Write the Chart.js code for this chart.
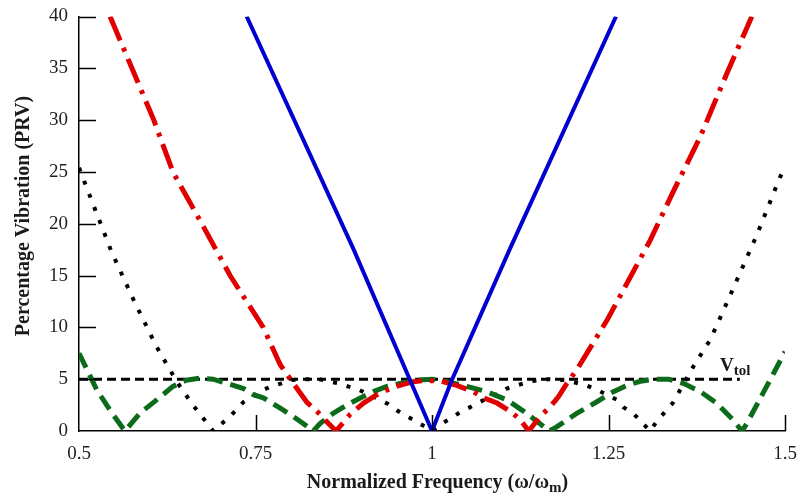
<!DOCTYPE html>
<html>
<head>
<meta charset="utf-8">
<script src="https://cdn.jsdelivr.net/npm/chart.js@4"></script>
<style>
  html, body { margin: 0; padding: 0; background: #fff; }
  #wrap { width: 800px; height: 498px; }
</style>
</head>
<body>
<div id="wrap"><canvas id="prvChart"></canvas></div>
<script>
// Data
const xTickLabels = ['0.5', '0.75', '1', '1.25', '1.5'];
const yTickLabels = ['0', '5', '10', '15', '20', '25', '30', '35', '40'];

const freqBlue = [0.7375, 0.8885, 0.969, 1.0, 1.028, 1.1105, 1.2606];
const prvBlue = [40, 17.6, 4.9, 0, 4.9, 17.6, 40];

const freqRed = [0.544, 0.575, 0.606, 0.633, 0.674, 0.714, 0.761, 0.785, 0.8035, 0.8225, 0.837, 0.851, 0.864,
  0.884, 0.903, 0.922, 0.941, 0.959, 0.973, 0.987, 1.0, 1.013, 1.035, 1.0585, 1.073, 1.092, 1.111, 1.125, 1.137,
  1.153, 1.167, 1.179, 1.191, 1.205, 1.248, 1.309, 1.341, 1.38, 1.417, 1.453];
const prvRed = [40, 35, 30, 25, 20, 15, 10, 6.4, 4.6, 2.8, 1.9, 0.9, 0,
  1.6, 2.7, 3.5, 4.1, 4.5, 4.75, 4.85, 4.85, 4.8, 4.4, 3.8, 3.2, 2.7, 1.9, 1.1, 0,
  1.4, 2.3, 3.3, 4.6, 5.9, 10.7, 18.4, 23, 28.4, 34.4, 40];

const freqBlack = [0.5, 0.546, 0.577, 0.6086, 0.6265, 0.643, 0.662, 0.69, 0.714, 0.733, 0.745, 0.759, 0.772, 0.787,
  0.799, 0.82, 0.84, 0.867, 0.881, 0.896, 0.91, 0.924, 0.938, 0.95, 0.962, 0.973, 0.988, 1.0, 1.0113, 1.0255, 1.042,
  1.054, 1.068, 1.082, 1.094, 1.106, 1.12, 1.14, 1.165, 1.19, 1.219, 1.233, 1.248, 1.262, 1.271, 1.285, 1.309, 1.318,
  1.341, 1.37, 1.394, 1.408, 1.436, 1.46, 1.493, 1.5];
const prvBlack = [25.4, 17.3, 12.7, 8.3, 6.15, 4.3, 2.45, 0, 1.4, 2.8, 3.3, 3.9, 4.3, 4.6,
  4.9, 5.0, 5.0, 4.6, 4.3, 4.0, 3.5, 3.1, 2.6, 2.0, 1.5, 1.1, 0.5, 0, 0.6, 1.2, 1.9,
  2.3, 2.8, 3.3, 3.6, 4.1, 4.4, 4.8, 5.0, 4.9, 4.4, 4.0, 3.5, 3.0, 2.3, 1.7, 0, 0.9,
  2.7, 6.2, 8.8, 10.9, 15.2, 18.9, 24.5, 25.4];

const freqGreen = [0.5, 0.525, 0.544, 0.565, 0.586, 0.61, 0.633, 0.652, 0.671, 0.69, 0.709, 0.733, 0.747, 0.761,
  0.785, 0.8035, 0.818, 0.832, 0.841, 0.86, 0.879, 0.893, 0.917, 0.936, 0.955, 0.978, 1.0, 1.0113, 1.044, 1.0775,
  1.106, 1.13, 1.153, 1.166, 1.1766, 1.205, 1.233, 1.257, 1.276, 1.295, 1.315, 1.335, 1.356, 1.38, 1.403, 1.426,
  1.439, 1.4457, 1.474, 1.5];
const prvGreen = [7.5, 4.0, 2.0, 0, 1.7, 3.0, 4.3, 4.9, 5.1, 5.0, 4.6, 4.1, 3.5, 3.2,
  2.2, 1.4, 0.7, 0, 0.7, 1.7, 2.5, 3.0, 3.8, 4.3, 4.6, 4.9, 5.0, 4.9, 4.4, 3.8,
  3.0, 1.9, 0.7, 0, 0.4, 1.7, 2.8, 3.8, 4.4, 4.8, 5.0, 5.0, 4.6, 3.8, 2.7, 1.1,
  0, 0.7, 4.3, 7.65];

const freqTol = [0.5, 1.436];
const prvTol = [5, 5];
const vtolLabelAt = [1.408, 5];

const toPoints = (xs, ys) => xs.map((x, i) => ({ x: x, y: ys[i] }));

const serif = '"Liberation Serif", "Times New Roman", serif';

// inward tick marks, axis titles and the V_tol note
const decorations = {
  id: 'decorations',
  afterDatasetsDraw(chart) {
    const ctx = chart.ctx;
    const xs = chart.scales.x, ys = chart.scales.y;
    const area = chart.chartArea;
    ctx.save();
    ctx.strokeStyle = '#000';
    ctx.lineWidth = 1.5;
    ctx.beginPath();
    ys.ticks.forEach(t => {
      if (t.value === 0) return;
      const py = Math.round(ys.getPixelForValue(t.value)) + 0.5;
      ctx.moveTo(area.left, py);
      ctx.lineTo(area.left + 17, py);
    });
    xs.ticks.forEach(t => {
      if (t.value === 0.5) return;
      const px = Math.round(xs.getPixelForValue(t.value)) + 0.5;
      ctx.moveTo(px, area.bottom);
      ctx.lineTo(px, area.bottom - 16);
    });
    ctx.stroke();

    ctx.fillStyle = '#1a1a1a';
    // y title
    ctx.save();
    ctx.translate(24, 216);
    ctx.rotate(-Math.PI / 2);
    ctx.font = 'bold 20px ' + serif;
    ctx.textAlign = 'center';
    ctx.textBaseline = 'middle';
    ctx.fillText('Percentage Vibration (PRV)', 0, 0);
    ctx.restore();

    // x title with subscript
    ctx.textBaseline = 'alphabetic';
    ctx.textAlign = 'left';
    const main = 'Normalized Frequency (\u03c9/\u03c9';
    ctx.font = 'bold 20px ' + serif;
    const wMain = ctx.measureText(main).width;
    ctx.font = 'bold 15px ' + serif;
    const wSub = ctx.measureText('m').width;
    ctx.font = 'bold 20px ' + serif;
    const wClose = ctx.measureText(')').width;
    let tx = 437.5 - (wMain + wSub + wClose) / 2;
    const base = 488;
    ctx.fillText(main, tx, base);
    tx += wMain;
    ctx.font = 'bold 15px ' + serif;
    ctx.fillText('m', tx, base + 4);
    tx += wSub;
    ctx.font = 'bold 20px ' + serif;
    ctx.fillText(')', tx, base);

    // V_tol note
    const vx = xs.getPixelForValue(vtolLabelAt[0]);
    const vy = ys.getPixelForValue(vtolLabelAt[1]) - 8;
    ctx.font = 'bold 19px ' + serif;
    ctx.fillText('V', vx, vy);
    const wV = ctx.measureText('V').width;
    ctx.font = 'bold 15px ' + serif;
    ctx.fillText('tol', vx + wV, vy + 4);
    ctx.restore();
  }
};

new Chart(document.getElementById('prvChart').getContext('2d'), {
  type: 'line',
  data: {
    datasets: [
      {
        label: 'Blue',
        data: toPoints(freqBlue, prvBlue),
        borderColor: '#0000d0',
        borderWidth: 4,
        order: 0
      },
      {
        label: 'Red',
        data: toPoints(freqRed, prvRed),
        borderColor: '#e00000',
        borderWidth: 5,
        borderDash: [26, 8, 4, 8],
        order: 1
      },
      {
        label: 'Green',
        data: toPoints(freqGreen, prvGreen),
        borderColor: '#0b6b1a',
        borderWidth: 5,
        borderDash: [16, 8],
        order: 2
      },
      {
        label: 'Black',
        data: toPoints(freqBlack, prvBlack),
        borderColor: '#000',
        borderWidth: 4,
        borderDash: [4, 10],
        order: 3
      },
      {
        label: 'Vtol',
        data: toPoints(freqTol, prvTol),
        borderColor: '#000',
        borderWidth: 3,
        borderDash: [9, 5],
        order: 4
      }
    ]
  },
  options: {
    responsive: true,
    maintainAspectRatio: false,
    animation: false,
    events: [],
    layout: { padding: { left: 0, right: 15, top: 16.5, bottom: 0 } },
    elements: {
      point: { radius: 0 },
      line: { tension: 0, borderCapStyle: 'butt', fill: false }
    },
    plugins: {
      legend: { display: false },
      tooltip: { enabled: false }
    },
    scales: {
      x: {
        type: 'linear',
        min: 0.5,
        max: 1.5,
        grid: { display: true, drawOnChartArea: false, drawTicks: false },
        border: { display: true, color: '#000', width: 1.5 },
        ticks: {
          stepSize: 0.25,
          padding: 12,
          color: '#222',
          font: { family: serif, size: 19 },
          maxRotation: 0,
          callback: (v, i) => xTickLabels[i]
        },
        afterFit: s => {
          s.height = 67;
          s.paddingLeft = 0;
          s.paddingRight = 0;
        }
      },
      y: {
        min: 0,
        max: 40,
        grid: { display: true, drawOnChartArea: false, drawTicks: false },
        border: { display: true, color: '#000', width: 1.5 },
        ticks: {
          stepSize: 5,
          padding: 11,
          color: '#222',
          font: { family: serif, size: 19 },
          callback: (v, i) => yTickLabels[i]
        },
        afterFit: s => {
          s.width = 79;
          s.paddingTop = 0;
          s.paddingBottom = 0;
        }
      }
    }
  },
  plugins: [decorations]
});
</script>
</body>
</html>
